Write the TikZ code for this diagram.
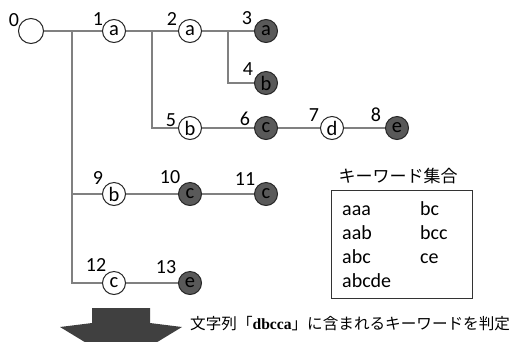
\documentclass[tikz,border=0pt]{standalone}
\usepackage{fontspec}
\setmainfont{Carlito}
\newfontfamily\jpfont{Noto Sans CJK JP}
\newfontfamily\serifbold{Liberation Serif}
\begin{document}
\begin{tikzpicture}[x=1pt,y=-1pt,
  edge/.style={draw=black!50, line width=1.3pt},
  state/.style={circle, draw=black!85, line width=1pt, fill=white,
    minimum size=23pt, inner sep=0pt, font=\fontsize{20.5}{20.5}\selectfont},
  final/.style={state, fill=black!65},
  lbl/.style={font=\fontsize{20}{20}\selectfont, inner sep=0pt},
  num/.style n args={3}{label={[lbl,xshift=#2pt,yshift=#3pt]center:#1}},
  kw/.style={font=\fontsize{20}{20}\selectfont, anchor=base west, inner sep=0pt},
]
\useasboundingbox (0,0) rectangle (513,341);

% trie nodes
\node[state, minimum size=25pt, num={0}{-17}{11}] (n0) at (31,31) {};
\node[state, num={1}{-16}{12}]  (n1)  at (114,31)  {a};
\node[state, num={2}{-18}{12}]  (n2)  at (190,31)  {a};
\node[final, num={3}{-19}{13}]  (n3)  at (266,31)  {a};
\node[final, num={4}{-18}{14}]  (n4)  at (266,83)  {b};
\node[state, num={5}{-19}{8}]   (n5)  at (190,128) {b};
\node[final, num={6}{-21}{9}]   (n6)  at (266,128) {c};
\node[state, num={7}{-18}{13}]  (n7)  at (332,128) {d};
\node[final, num={8}{-21}{13}]  (n8)  at (397,128) {e};
\node[state, num={9}{-16}{16}]  (n9)  at (114,194) {b};
\node[final, num={10}{-20}{17}] (n10) at (190,194) {c};
\node[final, num={11}{-21}{15}] (n11) at (266,194) {c};
\node[state, num={12}{-18}{18}] (n12) at (114,283) {c};
\node[final, num={13}{-24}{16}] (n13) at (190,283) {e};

% branch points
\coordinate (j0) at (72,31);
\coordinate (j1) at (152,31);
\coordinate (j2) at (228,31);

% edges
\draw[edge] (n0) -- (n1);
\draw[edge] (j0) |- (n9);
\draw[edge] (j0) |- (n12);
\draw[edge] (n1) -- (n2);
\draw[edge] (j1) |- (n5);
\draw[edge] (n2) -- (n3);
\draw[edge] (j2) |- (n4);
\draw[edge] (n5) -- (n6);
\draw[edge] (n6) -- (n7);
\draw[edge] (n7) -- (n8);
\draw[edge] (n9) -- (n10);
\draw[edge] (n10) -- (n11);
\draw[edge] (n12) -- (n13);

% keyword set
\node[font=\jpfont\fontsize{17}{17}\selectfont, inner sep=0pt] (title) at (398,176) {キーワード集合};
\draw[draw=black!80, line width=0.8pt] (331,190) rectangle (472,298);
\node[kw] (k1) at (342,215) {aaa};
\node[kw] (k2) at (342,239) {aab};
\node[kw] (k3) at (342,263) {abc};
\node[kw] (k4) at (342,287) {abcde};
\node[kw] (k5) at (420,215) {bc};
\node[kw] (k6) at (420,239) {bcc};
\node[kw] (k7) at (420,263) {ce};

% block arrow and caption
\fill[black!75] (92,308) -- (150,308) -- (150,323) -- (182,327) -- (121,364)
  -- (60,327) -- (92,323) -- cycle;
\node[anchor=west, inner sep=0pt, font=\jpfont\fontsize{15.6}{15.6}\selectfont] (cap) at (190,324)
  {文字列「{\serifbold\bfseries dbcca}」に含まれるキーワードを判定};
\end{tikzpicture}
\end{document}
